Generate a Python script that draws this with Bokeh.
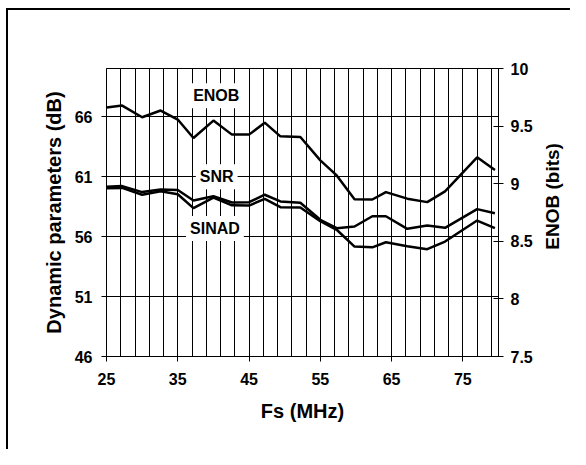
import math
from bokeh.plotting import figure
from bokeh.layouts import row
from bokeh.models import Range1d, LinearAxis, FixedTicker, NumeralTickFormatter, Label
from bokeh.core.properties import value
from bokeh.embed import file_html
from bokeh.resources import INLINE

# Sampling frequency (MHz)
fs = [25, 27.2, 30, 32.6, 35, 37.2, 40, 42.6, 45, 47.2, 49.4, 52.2,
      55, 57.3, 59.8, 62.3, 64.2, 67.2, 70, 72.5, 77, 79.5]
# SNR (dB)
snr = [60.15, 60.2, 59.7, 59.92, 59.88, 59.0, 59.35, 58.83, 58.86, 59.48, 58.92, 58.81,
       57.39, 56.69, 56.83, 57.69, 57.69, 56.64, 56.91, 56.72, 58.28, 57.94]
# SINAD (dB)
sinad = [60.02, 60.05, 59.48, 59.77, 59.52, 58.36, 59.24, 58.6, 58.58, 59.14, 58.44, 58.42,
         57.27, 56.56, 55.16, 55.10, 55.52, 55.19, 54.94, 55.58, 57.33, 56.69]
# ENOB (bits)
enob = [9.661, 9.678, 9.577, 9.635, 9.557, 9.397, 9.548, 9.426, 9.426, 9.530, 9.411, 9.405,
        9.203, 9.072, 8.866, 8.863, 8.927, 8.870, 8.840, 8.933, 9.229, 9.118]

x_major = [25, 35, 45, 55, 65, 75]
x_grid = list(range(25, 80, 2))
db_ticks = [46, 51, 56, 61, 66]
enob_ticks = [7.5, 8, 8.5, 9, 9.5, 10]

FONT = "Liberation Sans"
H = 439

p = figure(width=530, height=H, x_range=Range1d(25, 80), y_range=Range1d(46, 70),
           output_backend="svg", toolbar_location=None,
           min_border_left=98, min_border_right=40, min_border_top=58, min_border_bottom=93)
p.background_fill_color = "white"
p.border_fill_color = "white"
p.outline_line_color = "black"
p.outline_line_width = 1

p.extra_y_ranges = {"enob": Range1d(7.5, 10)}

# grids
p.xgrid.ticker = FixedTicker(ticks=x_grid)
p.ygrid.ticker = FixedTicker(ticks=db_ticks)
for g in (p.xgrid, p.ygrid):
    g.grid_line_color = "black"
    g.grid_line_alpha = 1.0
    g.grid_line_width = 1

# axes
xa = p.xaxis[0]
xa.ticker = FixedTicker(ticks=x_major)
xa.axis_label = "Fs (MHz)"
ya = p.yaxis[0]
ya.ticker = FixedTicker(ticks=db_ticks)
ya.axis_label = "Dynamic parameters (dB)"

ra = LinearAxis(y_range_name="enob", ticker=FixedTicker(ticks=enob_ticks),
                formatter=NumeralTickFormatter(format="0.[0]"))
p.add_layout(ra, "right")

for ax in (xa, ya, ra):
    ax.axis_line_color = "black"
    ax.axis_line_width = 1
    ax.major_tick_line_color = "black"
    ax.major_tick_line_width = 1
    ax.minor_tick_line_color = None
    ax.major_tick_out = 5
    ax.major_tick_in = 0
    ax.major_label_text_font = FONT
    ax.major_label_text_font_style = "bold"
    ax.major_label_text_font_size = "16px"
    ax.major_label_text_color = "black"
    ax.axis_label_text_font = FONT
    ax.axis_label_text_font_style = "bold"
    ax.axis_label_text_font_size = "20px"
    ax.axis_label_text_color = "black"
ra.major_tick_in = 5
xa.major_label_standoff = 11
xa.axis_label_standoff = 12
ya.major_label_standoff = 9
ya.axis_label_standoff = 7
ra.major_label_standoff = 7

# lines
p.line(fs, snr, line_color="black", line_width=2.5)
p.line(fs, sinad, line_color="black", line_width=2.5)
p.line(fs, enob, line_color="black", line_width=2.5, y_range_name="enob")


def mk_label(text, x, y):
    lab = Label(x=x, y=y, text=text, text_font=FONT, text_font_style="bold",
                text_font_size="16px", text_color="black",
                text_align="center", text_baseline="middle",
                background_fill_color="white", background_fill_alpha=1.0)
    try:
        lab.padding = 4
    except Exception:
        pass
    p.add_layout(lab)


mk_label("ENOB", 40.4, 67.73)
mk_label("SNR", 40.46, 60.98)
mk_label("SINAD", 40.21, 56.66)

# right-hand axis title (reads bottom to top), drawn in a narrow side panel
W2 = 32
p2 = figure(width=W2, height=H, x_range=Range1d(0, W2), y_range=Range1d(0, H),
            output_backend="svg", toolbar_location=None,
            x_axis_location=None, y_axis_location=None, min_border=0)
p2.grid.visible = False
p2.outline_line_color = None
p2.background_fill_color = "white"
p2.border_fill_color = "white"
p2.text(x=[14], y=[244], text=["ENOB (bits)"], angle=math.pi / 2,
        text_align="center", text_baseline="middle",
        text_font=value(FONT), text_font_style="bold", text_font_size="19px",
        text_color="black")

layout = row(p, p2, spacing=0)
layout.styles = {"border-left": "2px solid black", "border-top": "2px solid black",
                 "margin-left": "6px", "margin-top": "8px"}

open("out.html", "w").write(file_html(layout, INLINE))
